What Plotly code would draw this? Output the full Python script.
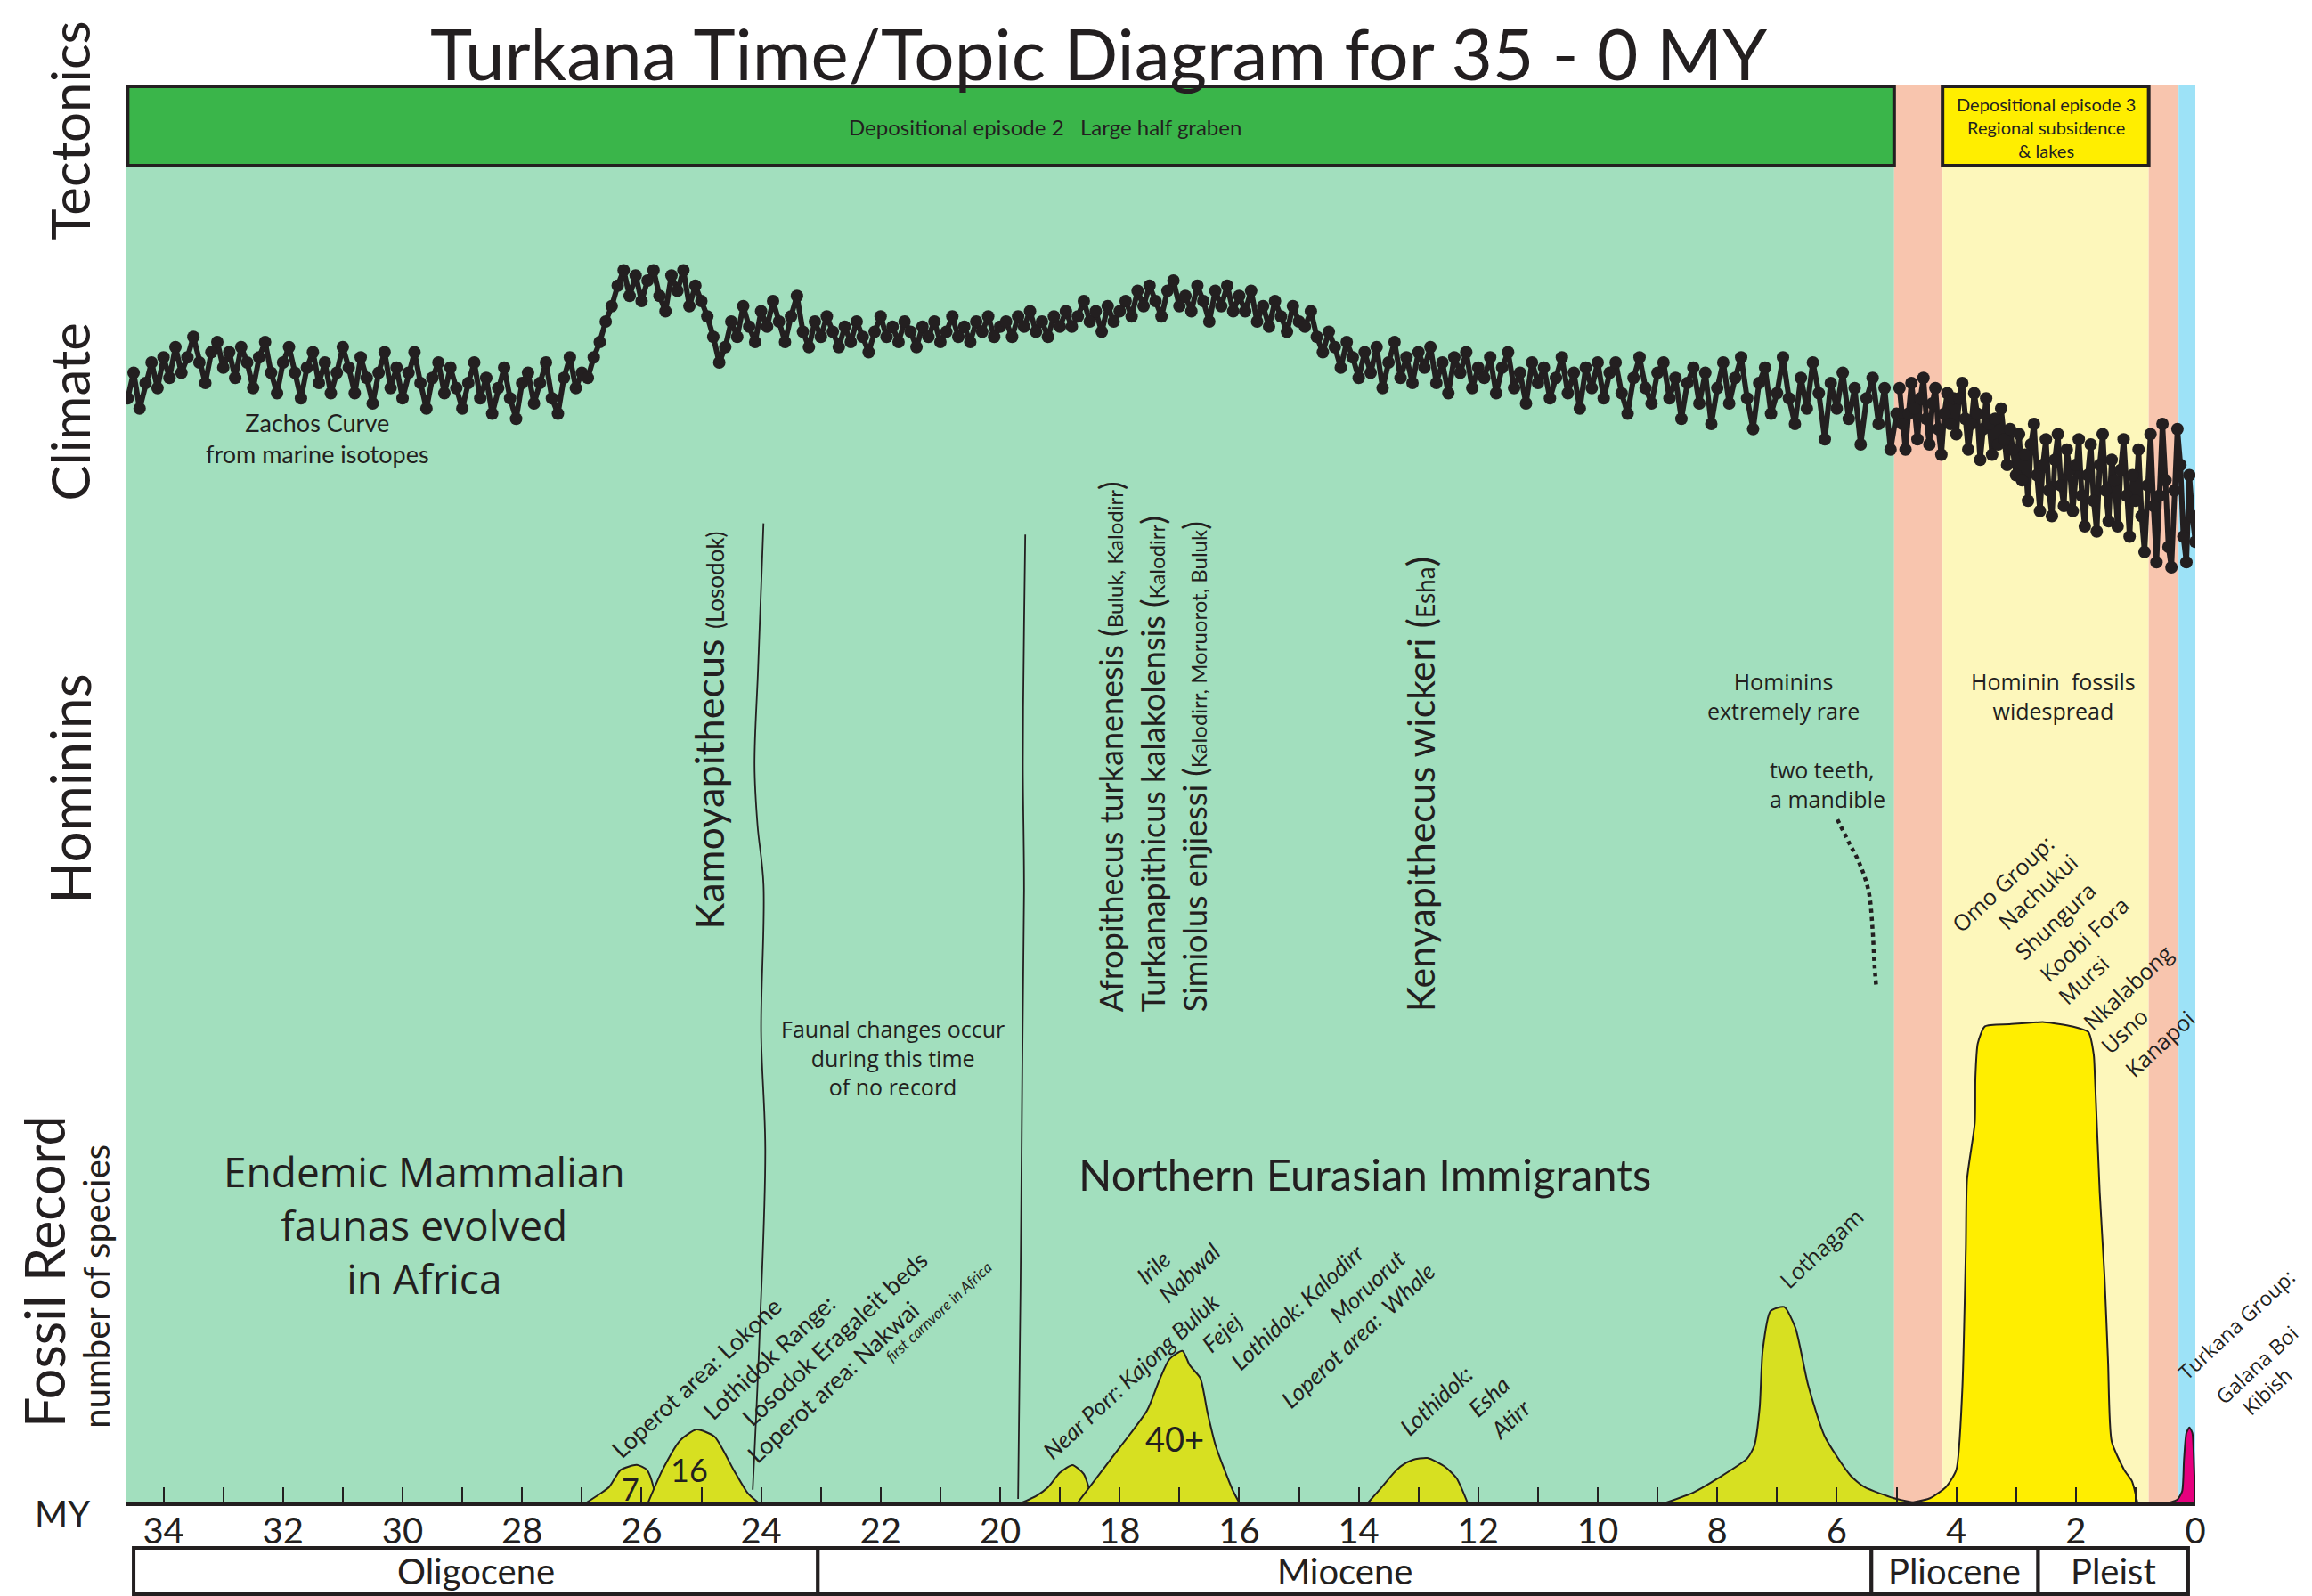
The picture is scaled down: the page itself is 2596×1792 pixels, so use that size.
import numpy as np
import plotly.graph_objects as go

INK = "#231F20"
MYRIAD = "Lato"
GOTHIC = "Open Sans"

# ---------------- time axis ----------------
tick_ages = list(range(34, -1, -2))

# ---------------- geological epochs (MY) ----------------
epoch_names = ["Oligocene", "Miocene", "Pliocene", "Pleist"]
epoch_start = [34.5, 23.05, 5.42, 2.63]
epoch_end = [23.05, 5.42, 2.63, 0.12]

# ---------------- environment bands (MY) ----------------
band_start = [34.62, 5.04, 4.23, 0.78, 0.28]
band_end = [5.04, 4.23, 0.78, 0.28, 0.0]
band_colors = ["#A2DFBE", "#F8C5AE", "#FDF7BB", "#F8C5AE", "#9DE2F7"]

# ---------------- tectonic episodes ----------------
tectonic_text = ["Depositional episode 2   Large half graben",
                 "Depositional episode 3<br>Regional subsidence<br>& lakes"]
tectonic_start = [34.6, 4.23]
tectonic_end = [5.04, 0.78]
tectonic_colors = ["#3AB54A", "#FFEE00"]

# ---------------- Zachos curve (delta 18O, per mil) ----------------
# 34.6 -> 5.0 MY every 0.1 MY
zachos_old = [
    2.95, 2.70, 3.05, 2.80, 2.60, 2.85, 2.55,
    2.75, 2.45, 2.70, 2.55, 2.35, 2.60, 2.80, 2.50, 2.40, 2.65,
    2.50, 2.75, 2.45, 2.60, 2.85, 2.55, 2.40, 2.70, 2.90, 2.60,
    2.45, 2.70, 2.95, 2.65, 2.50, 2.80, 2.60, 2.90, 2.70, 2.45,
    2.65, 2.90, 2.55, 2.75, 3.00, 2.70, 2.50, 2.85, 2.65, 2.95,
    2.70, 2.50, 2.80, 3.05, 2.75, 2.60, 2.90, 2.65, 2.85, 3.05,
    2.80, 2.60, 2.95, 2.75, 3.10, 2.85, 2.65, 2.95, 3.15, 2.80,
    2.70, 3.00, 2.80, 2.60, 2.95, 3.10, 2.75, 2.55, 2.85, 2.70,
    2.75, 2.55, 2.40, 2.20, 2.05, 1.85, 1.70, 1.95, 1.75, 2.00,
    1.80, 1.70, 1.95, 2.10, 1.75, 1.90, 1.70, 2.05, 1.85, 2.00,
    2.15, 2.35, 2.60, 2.45, 2.20, 2.35, 2.05, 2.25, 2.40, 2.10,
    2.25, 2.00, 2.20, 2.40, 2.15, 1.95, 2.30, 2.45, 2.20, 2.35,
    2.15, 2.30, 2.45, 2.25, 2.40, 2.20, 2.35, 2.50, 2.30, 2.15,
    2.35, 2.25, 2.40, 2.20, 2.30, 2.45, 2.25, 2.35, 2.20, 2.40,
    2.30, 2.15, 2.35, 2.25, 2.40, 2.20, 2.30, 2.15, 2.35, 2.25,
    2.20, 2.35, 2.15, 2.25, 2.10, 2.30, 2.20, 2.35, 2.15, 2.25,
    2.10, 2.25, 2.15, 2.00, 2.20, 2.10, 2.30, 2.05, 2.20, 2.10,
    2.00, 2.15, 1.90, 2.05, 1.85, 2.00, 2.15, 1.90, 1.80, 2.05,
    1.95, 2.10, 1.85, 2.00, 2.20, 1.90, 2.05, 1.85, 2.10, 1.95,
    2.10, 1.90, 2.20, 2.05, 2.25, 2.00, 2.15, 2.30, 2.05, 2.20,
    2.25, 2.10, 2.35, 2.50, 2.30, 2.45, 2.65, 2.40, 2.55, 2.75,
    2.50, 2.70, 2.45, 2.85, 2.60, 2.40, 2.75, 2.55, 2.80, 2.50,
    2.65, 2.45, 2.80, 2.60, 2.90, 2.55, 2.70, 2.50, 2.85, 2.65,
    2.75, 2.55, 2.90, 2.65, 2.50, 2.85, 2.70, 3.00, 2.60, 2.80,
    2.65, 2.95, 2.75, 2.55, 2.90, 2.70, 3.05, 2.65, 2.85, 2.60,
    2.95, 2.70, 2.60, 2.90, 3.10, 2.75, 2.55, 2.85, 3.00, 2.70,
    2.60, 2.95, 2.75, 3.15, 2.80, 2.65, 3.00, 2.70, 3.20, 2.85,
    2.60, 3.00, 2.75, 2.55, 2.95, 3.25, 2.80, 2.65, 3.10, 2.90,
    2.55, 2.95, 3.20, 2.75, 3.05, 2.60, 2.90, 3.35, 2.80, 3.05,
    2.70, 3.15, 2.85, 3.40, 2.95, 2.75, 3.20, 2.85, 3.45, 3.10,
]
# 4.95 -> 0.0 MY every 0.05 MY
zachos_young = [
    2.85, 3.20, 3.45, 3.10, 2.80, 3.05, 3.35, 2.95, 2.75, 3.15,
    3.40, 3.00, 2.85, 3.25, 3.50, 3.10, 2.90, 3.20, 2.95, 3.30,
    2.95, 2.80, 3.15, 3.45, 3.20, 2.90, 3.10, 3.55, 3.25, 2.95,
    3.20, 3.50, 3.15, 3.40, 3.05, 3.35, 3.60, 3.25, 3.45, 3.70,
    3.30, 3.75, 3.50, 3.95, 3.40, 3.20, 3.70, 4.05, 3.60, 3.35,
    3.85, 4.10, 3.55, 3.30, 3.80, 4.00, 3.45, 3.65, 4.05, 3.60,
    3.35, 3.90, 4.20, 3.70, 3.40, 3.95, 4.25, 3.60, 3.30, 3.85,
    4.15, 3.55, 3.75, 4.20, 3.65, 3.35, 3.90, 4.30, 3.70, 3.95,
    3.45, 4.10, 4.45, 3.80, 3.30, 4.00, 4.55, 3.90, 3.20, 3.75,
    4.40, 4.60, 3.85, 3.25, 3.60, 4.30, 4.55, 3.70, 4.10, 4.35,
]
zachos_age_old = np.round(34.6 - 0.1 * np.arange(len(zachos_old)), 3)
zachos_age_young = np.round(4.95 - 0.05 * np.arange(len(zachos_young)), 3)

# ---------------- fossil record (relative number of species) ----------------
lokone_age = [26.92, 26.7, 26.54, 26.35, 26.08, 25.91, 25.8, 25.76]
lokone_n = [0, 0.6, 1.1, 2.3, 2.65, 2.3, 1.07, 0]
lothidok_range_age = [25.89, 25.65, 25.35, 25.08, 24.78, 24.46, 24.22, 24.05]
lothidok_range_n = [0, 2.3, 4.4, 5.15, 4.65, 2.3, 0.63, 0]
nearporr_age = [19.63, 19.4, 19.2, 19.0, 18.79, 18.6, 18.45]
nearporr_n = [0, 0.45, 1.07, 2.1, 2.64, 2.0, 0]
buluk_age = [18.7, 18.14, 17.54, 17.33, 17.17, 16.95, 16.83, 16.65, 16.53, 16.39, 16.11, 16.0]
buluk_n = [0, 3.1, 6.5, 8.7, 10.1, 10.7, 9.7, 8.77, 6.35, 3.96, 0.88, 0]
esha_age = [13.84, 13.65, 13.41, 13.28, 13.1, 12.85, 12.55, 12.36, 12.18]
esha_n = [0, 0.9, 2.1, 2.6, 3.0, 3.14, 2.5, 1.7, 0]
lothagam_age = [8.85, 8.4, 7.99, 7.5, 7.38, 7.29, 7.24, 7.11, 6.88, 6.69, 6.48, 6.2, 5.77, 5.53, 5.04, 4.72]
lothagam_n = [0, 0.7, 1.7, 3.1, 4.0, 6.7, 10.7, 13.5, 13.8, 12.3, 8.3, 4.65, 1.9, 1.07, 0.3, 0]
omo_age = [4.74, 4.44, 4.17, 4.0, 3.9, 3.84, 3.82, 3.69, 3.68, 3.64, 3.52, 3.11, 2.53, 2.06, 1.79,
           1.7, 1.68, 1.6, 1.52, 1.46, 1.4, 1.19, 1.06, 0.97]
omo_n = [0, 0.3, 1.1, 2.3, 7.9, 18.0, 22.8, 26.8, 30.0, 32.4, 33.6, 33.75, 33.9, 33.6, 33.2,
         31.6, 30.0, 21.9, 16.0, 9.9, 4.3, 2.3, 1.5, 0]
kibish_age = [0.42, 0.3, 0.22, 0.19, 0.15, 0.1, 0.05, 0.02, 0.0]
kibish_n = [0, 0.2, 0.8, 3.0, 4.9, 5.3, 4.9, 2.5, 0]

# ---------------- no-record boundaries and hominin pointer ----------------
gap_start_age = [23.96, 24.05, 24.11, 24.06, 23.96, 24.0, 23.93, 24.02, 24.14]
gap_start_level = [69.1, 58.9, 52.0, 47.8, 43.6, 33.2, 24.9, 12.4, 0.9]
gap_end_age = [19.58, 19.6, 19.62, 19.6, 19.63, 19.66, 19.7]
gap_end_level = [68.3, 62.0, 52.2, 43.2, 30.6, 14.9, 0.25]
teeth_age = [5.99, 5.8, 5.63, 5.47, 5.4, 5.37, 5.34]
teeth_level = [48.2, 46.6, 45.2, 43.2, 40.4, 38.0, 36.4]

fig = go.Figure()

peaks = [
    (lokone_age, lokone_n, "#D7E021"),
    (lothidok_range_age, lothidok_range_n, "#D7E021"),
    (nearporr_age, nearporr_n, "#D7E021"),
    (buluk_age, buluk_n, "#D7E021"),
    (esha_age, esha_n, "#D7E021"),
    (lothagam_age, lothagam_n, "#D7E021"),
    (omo_age, omo_n, "#FFEE00"),
    (kibish_age, kibish_n, "#E6007E"),
]
for ages, ns, col in peaks:
    fig.add_trace(go.Scatter(x=ages, y=ns, mode="lines", fill="tozeroy", fillcolor=col,
                             line=dict(color=INK, width=2, shape="spline", smoothing=0.6),
                             hoverinfo="skip"))

for ages, lv, dash, w in [(gap_start_age, gap_start_level, "solid", 1.8),
                          (gap_end_age, gap_end_level, "solid", 1.8),
                          (teeth_age, teeth_level, "dot", 4.5)]:
    fig.add_trace(go.Scatter(x=ages, y=lv, mode="lines",
                             line=dict(color=INK, width=w, dash=dash, shape="spline"),
                             hoverinfo="skip"))

for ages, vals in [(zachos_age_old, zachos_old), (zachos_age_young, zachos_young)]:
    fig.add_trace(go.Scatter(x=ages, y=vals, yaxis="y2", mode="lines+markers",
                             line=dict(color=INK, width=6),
                             marker=dict(size=14, color=INK),
                             hoverinfo="skip"))

shapes = []
for s, e, c in zip(band_start, band_end, band_colors):
    shapes.append(dict(type="rect", xref="x", yref="paper", x0=s, x1=e, y0=0, y1=1,
                       fillcolor=c, line=dict(width=0), layer="below"))
for s, e, c in zip(tectonic_start, tectonic_end, tectonic_colors):
    shapes.append(dict(type="rect", xref="x", yref="paper", x0=s, x1=e, y0=0.9434, y1=0.9994,
                       fillcolor=c, line=dict(color=INK, width=4), layer="below"))
for s, e in zip(epoch_start, epoch_end):
    shapes.append(dict(type="rect", xref="x", yref="paper", x0=s, x1=e, y0=-0.0647, y1=-0.0321,
                       fillcolor="white", line=dict(color=INK, width=4), layer="above"))

ann = []


def note(text, x, y, size, family=MYRIAD, angle=0, xref="x", yref="y",
         xanchor="center", yanchor="middle", **kw):
    d = dict(text=text, x=x, y=y, xref=xref, yref=yref, showarrow=False,
             xanchor=xanchor, yanchor=yanchor,
             font=dict(size=size, family=family, color=INK), textangle=angle)
    d.update(kw)
    ann.append(d)


# title & section labels
note("Turkana Time/Topic Diagram for 35 - 0 MY", 0.4697, 1.0545, 80,
     xref="paper", yref="paper", yanchor="top")
note("Tectonics", -0.0276, 0.968, 60, angle=-90, xref="paper", yref="paper")
note("Climate", -0.0276, 0.7695, 60, angle=-90, xref="paper", yref="paper")
note("Hominins", -0.0276, 0.5035, 62, angle=-90, xref="paper", yref="paper")
note("Fossil Record", -0.0396, 0.1628, 61, angle=-90, xref="paper", yref="paper")
note("number of species", -0.0148, 0.1527, 40, angle=-90, xref="paper", yref="paper")
note("MY", -0.031, -0.0075, 40, xref="paper", yref="paper")

for name, s, e in zip(epoch_names, epoch_start, epoch_end):
    note(name, (s + e) / 2, -0.0484, 40, yref="paper")

note(tectonic_text[0], 19.25, 0.971, 24, yref="paper")
note(tectonic_text[1], 2.5, 0.9705, 20, yref="paper")

note("Zachos Curve<br>from marine isotopes", 31.43, 75.1, 27)

# hominins
note("Kamoyapithecus <span style='font-size:26px'>(Losodok)</span>", 24.87, 40.3, 45,
     angle=-90, yanchor="bottom")
note("Afropithecus turkanenesis (<span style='font-size:24px'>Buluk, Kalodirr</span>)<br>"
     "Turkanapithicus kalakolensis (<span style='font-size:24px'>Kalodirr</span>)<br>"
     "Simiolus enjiessi (<span style='font-size:24px'>Kalodirr, Moruorot, Buluk</span>)",
     17.45, 34.5, 36, angle=-90, yanchor="bottom", align="left")
note("Kenyapithecus wickeri (<span style='font-size:28px'>Esha</span>)", 12.97, 34.5, 43,
     angle=-90, yanchor="bottom")
note("Faunal changes occur<br>during this time<br>of no record", 21.79, 31.4, 25, family=GOTHIC)
note("Hominins<br>extremely rare", 6.9, 56.9, 25, family=GOTHIC)
note("two teeth,<br>a mandible", 7.15, 50.7, 25, family=GOTHIC, xanchor="left", align="left")
note("Hominin  fossils<br>widespread", 2.38, 56.9, 25, family=GOTHIC)

# fossil record text
note("Endemic Mammalian<br>faunas evolved<br>in Africa", 29.63, 19.6, 46, family=GOTHIC)
note("Northern Eurasian Immigrants", 13.9, 23.2, 49)
note("7", 26.18, 1.0, 34)
note("16", 25.2, 2.3, 36)
note("40+", 17.08, 4.5, 38)

A = -43
site_labels = [
    ("Loperot area: Lokone", 25.08, 8.8, 27, MYRIAD),
    ("Lothidok Range:", 23.87, 10.3, 27, MYRIAD),
    ("Losodok Eragaleit beds", 22.77, 11.6, 27, MYRIAD),
    ("Loperot area: Nakwai", 22.8, 8.5, 27, MYRIAD),
    ("<i>first carnvore in Africa</i>", 21.03, 13.5, 17, MYRIAD),
    ("<i>Near Porr: Kajong Buluk</i>", 17.81, 8.9, 26, MYRIAD),
    ("<i>Irile</i>", 17.44, 16.6, 26, MYRIAD),
    ("<i>Nabwal</i>", 16.84, 16.2, 26, MYRIAD),
    ("<i>Fejej</i>", 16.29, 12.0, 26, MYRIAD),
    ("<i>Lothidok: Kalodirr</i>", 15.02, 13.8, 26, MYRIAD),
    ("<i>Moruorut</i>", 13.86, 15.3, 26, MYRIAD),
    ("<i>Loperot area:  Whale</i>", 14.01, 11.8, 26, MYRIAD),
    ("<i>Lothidok:</i>", 12.7, 7.2, 26, MYRIAD),
    ("<i>Esha</i>", 11.83, 7.5, 26, MYRIAD),
    ("<i>Atirr</i>", 11.46, 5.9, 26, MYRIAD),
    ("Lothagam", 6.26, 18.0, 25, GOTHIC),
    ("Omo Group:", 3.23, 43.7, 25, GOTHIC),
    ("Nachukui", 2.64, 43.1, 25, GOTHIC),
    ("Shungura", 2.34, 41.1, 25, GOTHIC),
    ("Koobi Fora", 1.86, 39.8, 25, GOTHIC),
    ("Mursi", 1.88, 36.9, 25, GOTHIC),
    ("Nkalabong", 1.13, 36.4, 25, GOTHIC),
    ("Usno", 1.19, 33.3, 25, GOTHIC),
    ("Kanapoi", 0.61, 32.4, 25, GOTHIC),
]
for t, x, y, s, f in site_labels:
    note(t, x, y, s, family=f, angle=A)

note("Turkana Group:", 1.0198, 0.1257, 23, family=GOTHIC, angle=A, xref="paper", yref="paper")
note("Galana Boi", 1.0297, 0.0974, 23, family=GOTHIC, angle=A, xref="paper", yref="paper")
note("Kibish", 1.0345, 0.0786, 23, family=GOTHIC, angle=A, xref="paper", yref="paper")

# page body has an 8 px margin: figure is 8 px smaller and shifted accordingly
fig.update_layout(
    width=2588, height=1784,
    margin=dict(l=134, r=131, t=88, b=105),
    paper_bgcolor="white", plot_bgcolor="rgba(0,0,0,0)",
    showlegend=False,
    font=dict(family=MYRIAD, color=INK),
    shapes=shapes, annotations=ann,
    xaxis=dict(range=[34.62, 0], tickmode="linear", tick0=0, dtick=2,
               ticks="inside", ticklen=17, tickwidth=2, tickcolor=INK,
               showline=True, linecolor=INK, linewidth=4,
               showgrid=False, zeroline=False, ticklabelstandoff=-6,
               tickfont=dict(size=40, family=MYRIAD, color=INK),
               minor=dict(dtick=1, tick0=0, ticks="inside", ticklen=17, tickwidth=2,
                          tickcolor=INK, showgrid=False)),
    yaxis=dict(range=[0, 100], visible=False, showgrid=False, zeroline=False),
    yaxis2=dict(range=[13.73, -0.104], overlaying="y", visible=False,
                showgrid=False, zeroline=False),
)

fig.write_html("out.html")
